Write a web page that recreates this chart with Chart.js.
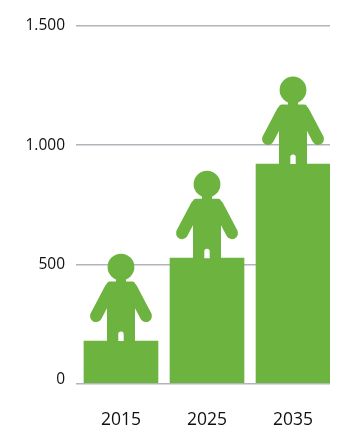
<!DOCTYPE html>
<html><head><meta charset="utf-8">
<style>html,body{margin:0;padding:0;background:#fff}canvas{display:block}</style>
<script src="https://cdn.jsdelivr.net/npm/chart.js@4"></script></head>
<body><canvas id="c" width="339" height="427"></canvas>
<script>
const years=[2015,2025,2035];
const values=[178,526,921];
const yTicks=[0,500,1000,1500];
const GREEN='#6cb33f', GRID='#b2b4bc', FONT='"Open Sans", sans-serif';

const person={id:'person',afterDatasetsDraw(chart){
  const ctx=chart.ctx;
  chart.getDatasetMeta(0).data.forEach(bar=>{
    const cx=bar.x, top=bar.y;
    ctx.save();
    ctx.translate(cx,top);
    ctx.fillStyle=GREEN;ctx.strokeStyle=GREEN;
    ctx.beginPath();ctx.arc(0,-74,13.4,0,Math.PI*2);ctx.fill();
    ctx.fillRect(-5,-64,10,8);
    ctx.beginPath();ctx.roundRect(-14,-59.5,28,60,[3,3,0,0]);ctx.fill();
    ctx.lineWidth=12;ctx.lineCap='round';
    [-1,1].forEach(s=>{ctx.beginPath();ctx.moveTo(s*25,-25);ctx.lineTo(s*10.5,-52.5);ctx.stroke();});
    ctx.fillStyle='#fff';
    ctx.beginPath();ctx.roundRect(-2.7,-9.5,5.4,9.5,[2.7,2.7,0,0]);ctx.fill();
    ctx.restore();
  });
}};

new Chart(document.getElementById('c'),{
  type:'bar',
  data:{datasets:[{data:years.map((x,i)=>({x,y:values[i]})),backgroundColor:GREEN,borderWidth:0,barThickness:74}]},
  options:{
    responsive:false,animation:false,
    layout:{padding:{top:26,right:9,left:0,bottom:0}},
    plugins:{legend:{display:false},tooltip:{enabled:false}},
    scales:{
      x:{type:'linear',offset:false,min:2009.77,max:2039.3,
        afterBuildTicks(s){s.ticks=years.map(v=>({value:v}));},
        afterFit(s){s.height=43.5;},
        grid:{display:false,offset:false},border:{display:false},
        ticks:{autoSkip:false,maxRotation:0,padding:18,color:'#111',font:{family:FONT,size:17.5},callback:v=>String(v)}},
      y:{min:0,max:1500,
        afterBuildTicks(s){s.ticks=yTicks.map(v=>({value:v}));},
        afterFit(s){s.width=76;},
        grid:{color:GRID,lineWidth:1.5,drawTicks:false},border:{display:false},
        ticks:{autoSkip:false,padding:11,color:'#111',
          font:c=>({family:FONT,size:15.5,lineHeight:c.tick&&c.tick.value===0?'8px':1.2}),
          callback:v=>v===0?['0','']:String(v).replace(/\B(?=(\d{3})+$)/g,'.')}}
    }
  },
  plugins:[person]
});
</script></body></html>
